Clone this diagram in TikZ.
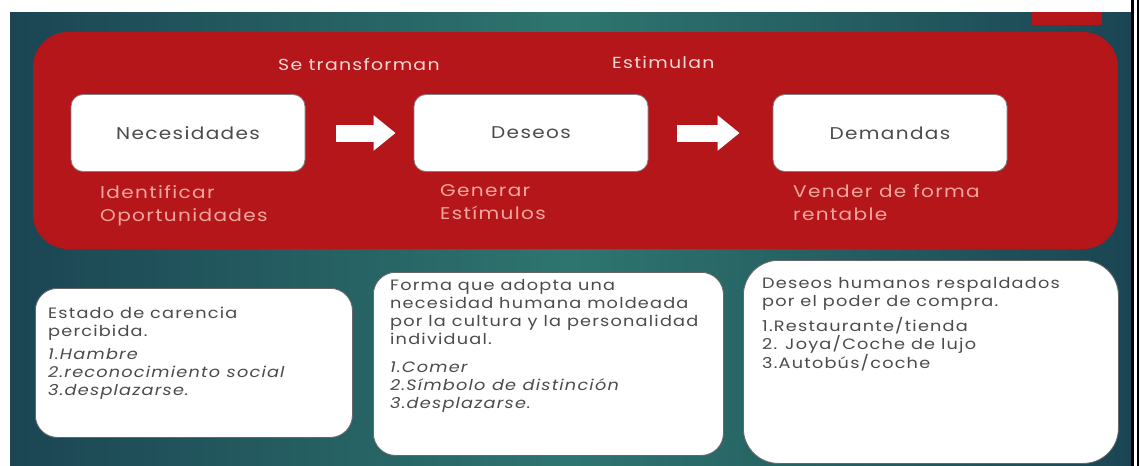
\documentclass[tikz,border=0pt]{standalone}
\usepackage{fontspec}
\setmainfont{Poppins}[FakeStretch=1.18, LetterSpace=8]
\usepackage{tikz}
\usepackage{xcolor}
\usetikzlibrary{positioning, arrows.meta, calc}
\definecolor{slideTeal}    {HTML}{2E756F}
\definecolor{slideTealDark}{HTML}{1B4553}
\definecolor{bannerRed}    {HTML}{B5161A}
\definecolor{notePink}     {HTML}{F2A79E}
\definecolor{verbPink}     {HTML}{F6D9D3}
\definecolor{cInk}         {HTML}{4B4B4B}

\begin{document}
\begin{tikzpicture}[x=1pt, y=-1pt,
    conceptbox/.style={draw=black!50, line width=0.8pt, fill=white,
      rounded corners=12pt, minimum width=234pt, minimum height=77pt,
      font=\fontsize{17}{20}\selectfont, text=cInk},
    blockarrow/.style={line width=17pt, draw=white,
      -{Triangle[length=22pt, width=34pt]}},
    note/.style={anchor=north west, inner sep=0pt, align=left, text=notePink,
      font=\fontsize{17}{23}\selectfont},
    verb/.style={anchor=base west, inner sep=0pt, text=verbPink,
      font=\fontsize{16}{19}\selectfont},
    infobox/.style={draw=black!60, line width=0.8pt, fill=white, anchor=north west},
    infotext/.style={anchor=north west, inner sep=0pt, align=left, text=cInk,
      font=\fontsize{15}{18}\selectfont},
  ]
  \useasboundingbox (0,0) rectangle (1141,466);
  \fill[white] (0,0) rectangle (1141,466);
  % slide background
  \fill[left color=slideTealDark, right color=slideTealDark, middle color=slideTeal]
    (10,12) rectangle (1131,466);
  \fill[black] (1131,0) rectangle (1134,466);
  \fill[black] (1137,0) rectangle (1139,466);
  \fill[bannerRed] (1032,12) rectangle (1102,25);
  % red banner
  \fill[bannerRed, rounded corners=35pt] (33,32) rectangle (1118,249);

  \foreach \x/\name/\txt in {188/nec/Necesidades, 531/des/Deseos, 890/dem/Demandas}{
    \node[conceptbox] (\name) at (\x, 133) {\txt};
  }
  \draw[blockarrow, shorten <=31pt, shorten >=18pt] (nec) -- (des);
  \draw[blockarrow, shorten <=29pt, shorten >=33pt] (des) -- (dem);

  \node[verb] (transf) at (278, 70) {Se transforman};
  \node[verb] (estim)  at (612, 68) {Estimulan};

  \node[note] (necnote) at (100, 185) {Identificar\\Oportunidades};
  \node[note] (desnote) at (440, 184) {Generar\\Estímulos};
  \node[note] (demnote) at (793, 184) {Vender de forma\\rentable};

  % lower cards
  \node[infobox, rounded corners=22pt, minimum width=317pt, minimum height=149pt]
    (needcard) at (35, 288) {};
  \node[infobox, rounded corners=22pt, minimum width=350pt, minimum height=183pt]
    (wishcard) at (373, 272) {};
  \node[infobox, rounded corners=35pt, minimum width=375pt, minimum height=203pt]
    (demcard) at (743, 260) {};

  \node[infotext] (needtxt) at (48, 307)
    {Estado de carencia\\percibida.\\[5pt]{\itshape 1.Hambre}\\
     {\itshape 2.reconocimiento social}\\{\itshape 3.desplazarse.}};
  \node[infotext] (wishtxt) at (390, 279)
    {Forma que adopta una\\necesidad humana moldeada\\por la cultura y la personalidad\\
     individual.\\[10pt]{\itshape 1.Comer}\\{\itshape 2.Símbolo de distinción}\\
     {\itshape 3.desplazarse.}};
  \node[infotext] (demtxt) at (762, 277)
    {Deseos humanos respaldados\\por el poder de compra.\\[6pt]1.Restaurante/tienda\\
     2. Joya/Coche de lujo\\3.Autobús/coche};
\end{tikzpicture}
\end{document}
